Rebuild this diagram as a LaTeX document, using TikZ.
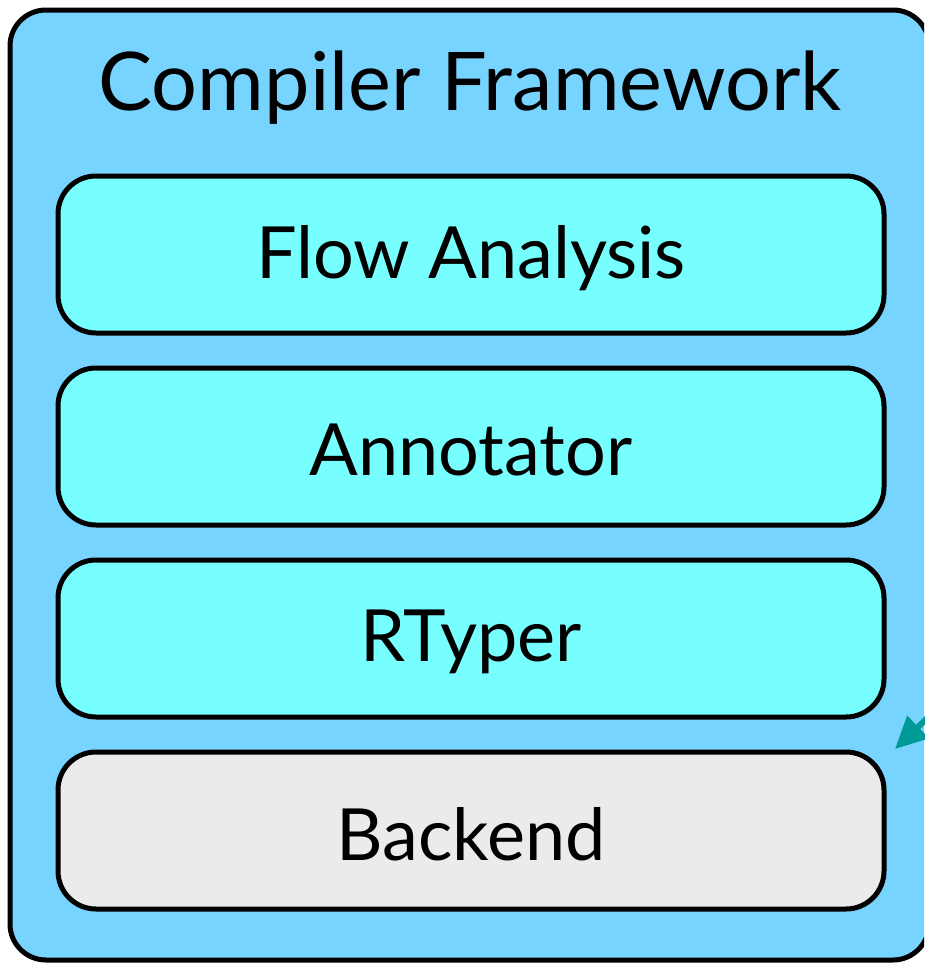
\documentclass[tikz,border=0pt]{standalone}
\usepackage{fontspec}
\setmainfont{Lato}
\usetikzlibrary{arrows.meta}
\definecolor{outerblue}{HTML}{77D4FF}
\definecolor{innercyan}{HTML}{77FFFF}
\definecolor{backgray}{HTML}{EBEBEB}
\definecolor{arrowteal}{HTML}{009A96}
\begin{document}
\begin{tikzpicture}[x=1pt,y=-1pt,
  layerbox/.style={draw=black, line width=5pt, rounded corners=38pt, fill=innercyan},
  layertext/.style={font=\fontsize{72}{86}\selectfont, text=black},
]
\useasboundingbox (0,0) rectangle (924,964);
\begin{scope}
\clip (0,0) rectangle (924,964);
\draw[line width=5pt, rounded corners=36pt, fill=outerblue] (10,10) rectangle (929,960);
\end{scope}
\node[font=\fontsize{81}{94}\selectfont] (title) at (470,88) {Compiler Framework};
\draw[layerbox] (58,176) rectangle (884,333);
\node[layertext] (flow) at (471,258) {Flow Analysis};
\draw[layerbox] (58,368) rectangle (884,525);
\node[layertext] (annot) at (471,450) {Annotator};
\draw[layerbox] (58,560) rectangle (884,717);
\node[layertext] (rtyper) at (471,642) {RTyper};
\draw[layerbox, fill=backgray] (58,752) rectangle (884,909);
\node[layertext] (backend) at (471,834) {Backend};
\coordinate (arrstart) at (940,706);
\coordinate (arrtip) at (895,749);
\draw[arrowteal, line width=6pt, -{Triangle[width=30pt,length=32pt]}] (arrstart) -- (arrtip);
\end{tikzpicture}
\end{document}
